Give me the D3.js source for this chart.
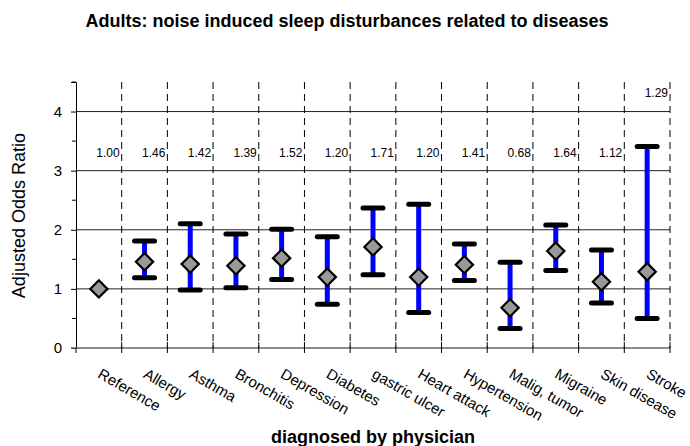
<!DOCTYPE html>
<html>
<head>
<meta charset="utf-8">
<script src="https://cdn.jsdelivr.net/npm/d3@7"></script>
<style>
  body { margin: 0; background: #fff; }
  text { font-family: "Liberation Sans", Arial, sans-serif; }
</style>
</head>
<body>
<div id="chart"></div>
<script>
const categories = ['Reference', 'Allergy', 'Asthma', 'Bronchitis', 'Depression', 'Diabetes',
    'gastric ulcer', 'Heart attack', 'Hypertension', 'Malig, tumor', 'Migraine', 'Skin disease', 'Stroke'];
const oddsRatio = [1.00, 1.46, 1.42, 1.39, 1.52, 1.20, 1.71, 1.20, 1.41, 0.68, 1.64, 1.12, 1.29];
const lower = [null, 1.19, 0.98, 1.02, 1.16, 0.74, 1.24, 0.60, 1.14, 0.33, 1.31, 0.76, 0.50];
const upper = [null, 1.81, 2.10, 1.93, 2.01, 1.88, 2.37, 2.43, 1.76, 1.45, 2.08, 1.66, 3.41];
const yTicks = [0, 1, 2, 3, 4];

const width = 690, height = 446;
const margin = {top: 82, right: 20, bottom: 98, left: 76};

const svg = d3.select('#chart').append('svg')
    .attr('width', width)
    .attr('height', height);

const x = d3.scaleBand()
    .domain(categories)
    .range([margin.left, width - margin.right])
    .padding(0);

const y = d3.scaleLinear()
    .domain([0, 4.5])
    .range([height - margin.bottom, margin.top]);

const data = categories.map(function (c, i) {
    return {name: c, value: oddsRatio[i], lo: lower[i], hi: upper[i]};
});

// horizontal gridlines
svg.append('g')
    .selectAll('line')
    .data(yTicks.filter(function (d) { return d > 0; }))
    .enter()
    .append('line')
    .attr('x1', margin.left)
    .attr('x2', width - margin.right)
    .attr('y1', function (d) { return y(d); })
    .attr('y2', function (d) { return y(d); })
    .attr('stroke', '#222')
    .attr('stroke-width', 1);

// dashed separators between categories
svg.append('g')
    .selectAll('line')
    .data(categories)
    .enter()
    .append('line')
    .attr('x1', function (d) { return x(d) + x.bandwidth(); })
    .attr('x2', function (d) { return x(d) + x.bandwidth(); })
    .attr('y1', margin.top)
    .attr('y2', y(0))
    .attr('stroke', '#000')
    .attr('stroke-width', 1)
    .attr('stroke-dasharray', '7,5');

// y axis
const yAxis = d3.axisLeft(y)
    .tickValues(yTicks)
    .tickSize(5)
    .tickPadding(9)
    .tickFormat(d3.format('d'));
const gy = svg.append('g')
    .attr('transform', `translate(${margin.left},0)`)
    .call(yAxis);
gy.select('.domain').attr('stroke', '#000');
gy.selectAll('.tick text').style('font-size', '15px').attr('fill', '#000');

// minor ticks at the halves
svg.append('g')
    .selectAll('line')
    .data(d3.range(0.5, 4.6, 1))
    .enter()
    .append('line')
    .attr('x1', margin.left - 4)
    .attr('x2', margin.left)
    .attr('y1', function (d) { return y(d); })
    .attr('y2', function (d) { return y(d); })
    .attr('stroke', '#000');

// x axis line and ticks
svg.append('line')
    .attr('x1', margin.left - 5)
    .attr('x2', width - margin.right)
    .attr('y1', y(0))
    .attr('y2', y(0))
    .attr('stroke', '#666')
    .attr('stroke-width', 1.5);

svg.append('g')
    .selectAll('line')
    .data(categories)
    .enter()
    .append('line')
    .attr('x1', function (d) { return x(d) + x.bandwidth(); })
    .attr('x2', function (d) { return x(d) + x.bandwidth(); })
    .attr('y1', y(0) - 6)
    .attr('y2', y(0) + 5)
    .attr('stroke', '#000');

svg.append('line')
    .attr('x1', margin.left)
    .attr('x2', margin.left)
    .attr('y1', y(0))
    .attr('y2', y(0) + 5)
    .attr('stroke', '#000');

// category labels
svg.append('g')
    .selectAll('text')
    .data(categories)
    .enter()
    .append('text')
    .attr('transform', function (d) {
        return `translate(${x(d) + x.bandwidth() / 2 - 2},${y(0) + 29}) rotate(30)`;
    })
    .attr('text-anchor', 'start')
    .style('font-size', '15px')
    .text(function (d) { return d; });

// error bars
const bars = svg.append('g')
    .selectAll('g')
    .data(data.filter(function (d) { return d.lo !== null; }))
    .enter()
    .append('g');

bars.append('line')
    .attr('x1', function (d) { return x(d.name) + x.bandwidth() / 2; })
    .attr('x2', function (d) { return x(d.name) + x.bandwidth() / 2; })
    .attr('y1', function (d) { return y(d.lo); })
    .attr('y2', function (d) { return y(d.hi); })
    .attr('stroke', '#0000ff')
    .attr('stroke-width', 5);

bars.selectAll('.cap')
    .data(function (d) { return [{name: d.name, v: d.lo}, {name: d.name, v: d.hi}]; })
    .enter()
    .append('line')
    .attr('class', 'cap')
    .attr('x1', function (d) { return x(d.name) + x.bandwidth() / 2 - 10; })
    .attr('x2', function (d) { return x(d.name) + x.bandwidth() / 2 + 10; })
    .attr('y1', function (d) { return y(d.v); })
    .attr('y2', function (d) { return y(d.v); })
    .attr('stroke', '#000')
    .attr('stroke-width', 5)
    .attr('stroke-linecap', 'round');

// diamonds
svg.append('g')
    .selectAll('path')
    .data(data)
    .enter()
    .append('path')
    .attr('d', d3.symbol().type(d3.symbolDiamond2).size(190))
    .attr('transform', function (d) {
        return `translate(${x(d.name) + x.bandwidth() / 2},${y(d.value)})`;
    })
    .attr('fill', '#999')
    .attr('stroke', '#000')
    .attr('stroke-width', 2.2)
    .attr('stroke-linejoin', 'miter');

// value labels, lifted above the bar when it reaches too high
svg.append('g')
    .selectAll('text')
    .data(data)
    .enter()
    .append('text')
    .attr('x', function (d) { return x(d.name) + x.bandwidth() - 2; })
    .attr('y', function (d) { return y(d.hi > 3 ? d.hi + 0.84 : 3.23); })
    .attr('text-anchor', 'end')
    .style('font-size', '12px')
    .text(function (d) { return d.value.toFixed(2); });

// titles
svg.append('text')
    .attr('x', 347)
    .attr('y', 27)
    .attr('text-anchor', 'middle')
    .style('font-size', '18px')
    .style('font-weight', 'bold')
    .text('Adults: noise induced sleep disturbances related to diseases');

svg.append('text')
    .attr('transform', `translate(25,${y(2.24)}) rotate(-90)`)
    .attr('text-anchor', 'middle')
    .style('font-size', '18px')
    .text('Adjusted Odds Ratio');

svg.append('text')
    .attr('x', (margin.left + width - margin.right) / 2)
    .attr('y', 443)
    .attr('text-anchor', 'middle')
    .style('font-size', '18px')
    .style('font-weight', 'bold')
    .text('diagnosed by physician');
</script>
</body>
</html>
